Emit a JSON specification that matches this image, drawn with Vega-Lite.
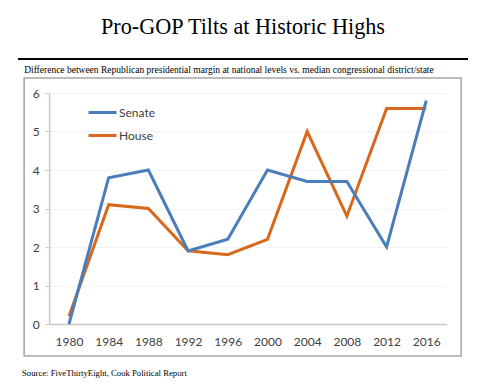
{
  "$schema": "https://vega.github.io/schema/vega-lite/v6.json",
  "background": "white",
  "padding": {"left": 18, "top": 15, "right": 10, "bottom": 10},
  "config": {"font": "Lato"},
  "title": {
    "text": "Source: FiveThirtyEight, Cook Political Report",
    "orient": "bottom",
    "anchor": "start",
    "font": "Liberation Serif",
    "fontSize": 8.7,
    "fontWeight": "normal",
    "color": "black",
    "offset": 12,
    "dx": 4
  },
  "center": true,
  "spacing": 3,
  "vconcat": [
    {
      "title": {
        "text": "Pro-GOP Tilts at Historic Highs",
        "font": "Liberation Serif",
        "fontSize": 22.2,
        "fontWeight": "normal",
        "color": "black",
        "anchor": "middle",
        "offset": 20
      },
      "width": 450,
      "height": 2,
      "view": {"fill": "black", "stroke": null},
      "data": {"values": []},
      "mark": "point",
      "encoding": {}
    },
    {
      "title": {
        "text": "Difference between Republican presidential margin at national levels vs. median congressional district/state",
        "font": "Liberation Serif",
        "fontSize": 9.5,
        "fontWeight": "normal",
        "color": "black",
        "anchor": "start",
        "offset": 4
      },
      "width": 437,
      "height": 278,
      "view": {"stroke": "#a6a6a6", "strokeWidth": 1.5},
      "data": {
        "values": [
          {"year": "1980", "series": "House", "value": 0.2},
          {"year": "1984", "series": "House", "value": 3.1},
          {"year": "1988", "series": "House", "value": 3.0},
          {"year": "1992", "series": "House", "value": 1.9},
          {"year": "1996", "series": "House", "value": 1.8},
          {"year": "2000", "series": "House", "value": 2.2},
          {"year": "2004", "series": "House", "value": 5.0},
          {"year": "2008", "series": "House", "value": 2.8},
          {"year": "2012", "series": "House", "value": 5.6},
          {"year": "2016", "series": "House", "value": 5.6},
          {"year": "1980", "series": "Senate", "value": 0.0},
          {"year": "1984", "series": "Senate", "value": 3.8},
          {"year": "1988", "series": "Senate", "value": 4.0},
          {"year": "1992", "series": "Senate", "value": 1.9},
          {"year": "1996", "series": "Senate", "value": 2.2},
          {"year": "2000", "series": "Senate", "value": 4.0},
          {"year": "2004", "series": "Senate", "value": 3.7},
          {"year": "2008", "series": "Senate", "value": 3.7},
          {"year": "2012", "series": "Senate", "value": 2.0},
          {"year": "2016", "series": "Senate", "value": 5.8}
        ]
      },
      "mark": {"type": "line", "strokeWidth": 3},
      "encoding": {
        "x": {
          "field": "year",
          "type": "ordinal",
          "sort": null,
          "scale": {"type": "point", "padding": 0.5, "range": [25, 422]},
          "axis": {
            "title": null,
            "offset": -32,
            "labelAngle": 0,
            "ticks": false,
            "labelPadding": 12,
            "labelFontSize": 12,
            "labelColor": "#404040",
            "domainColor": "#c8c8c8",
            "domainWidth": 1.5,
            "grid": false
          }
        },
        "y": {
          "field": "value",
          "type": "quantitative",
          "scale": {"domain": [0, 6], "range": [246, 15], "nice": false, "zero": false},
          "axis": {
            "title": null,
            "offset": -25,
            "values": [0, 1, 2, 3, 4, 5, 6],
            "tickSize": 4,
            "tickColor": "#c8c8c8",
            "labelPadding": 6,
            "labelFontSize": 12,
            "labelColor": "#404040",
            "domainColor": "#c8c8c8",
            "domainWidth": 1.5,
            "grid": true,
            "gridColor": "#f3f3f3"
          }
        },
        "color": {
          "field": "series",
          "type": "nominal",
          "sort": null,
          "scale": {"domain": ["Senate", "House"], "range": ["#4A7EBB", "#D8691C"]},
          "legend": {
            "title": null,
            "orient": "none",
            "legendX": 69,
            "legendY": 39,
            "symbolType": "stroke",
            "symbolSize": 784,
            "symbolStrokeWidth": 3,
            "labelFontSize": 12,
            "labelColor": "#404040",
            "labelOffset": 1,
            "rowPadding": 1
          }
        }
      }
    }
  ]
}
